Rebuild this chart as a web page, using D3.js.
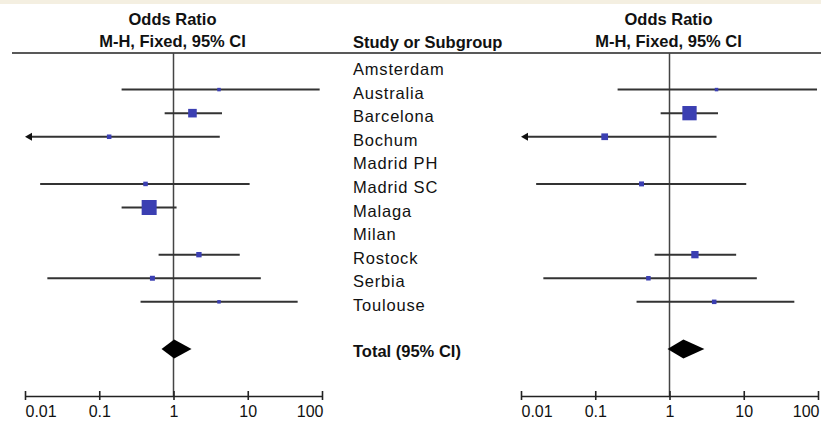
<!DOCTYPE html>
<html>
<head>
<meta charset="utf-8">
<script src="https://cdn.jsdelivr.net/npm/d3@7"></script>
<style>
  body { margin: 0; background: #fff; }
  svg { display: block; font-family: "Liberation Sans", Arial, sans-serif; }
  .hdr { font-weight: bold; font-size: 16.5px; fill: #111; }
  .study { font-size: 16.5px; letter-spacing: 0.8px; fill: #111; }
</style>
</head>
<body>
<svg id="chart"></svg>
<script>
// study rows (top to bottom)
const studies = ["Amsterdam", "Australia", "Barcelona", "Bochum", "Madrid PH", "Madrid SC",
                 "Malaga", "Milan", "Rostock", "Serbia", "Toulouse"];
const totalLabel = "Total (95% CI)";
const tickValues = [0.01, 0.1, 1, 10, 100];

// left plot: odds ratio, lower / upper CI, weight (%)
const leftOR     = [null, 4.1, 1.8, 0.136, null, 0.42, 0.47, null, 2.2, 0.52, 4.1];
const leftLow    = [null, 0.2, 0.76, 0.004, null, 0.016, 0.2, null, 0.63, 0.02, 0.36];
const leftHigh   = [null, 93, 4.5, 4.2, null, 10.6, 1.1, null, 7.8, 15, 47];
const leftWeight = [0, 3, 18, 5, 0, 5, 55, 0, 7, 6, 3];
const leftTotal  = [1.02, 0.69, 1.75];

// right plot
const rightOR     = [null, 4.3, 1.86, 0.134, null, 0.42, null, null, 2.2, 0.52, 4.0];
const rightLow    = [null, 0.2, 0.76, 0.004, null, 0.016, null, null, 0.63, 0.02, 0.36];
const rightHigh   = [null, 97, 4.5, 4.3, null, 10.8, null, null, 7.9, 15, 48];
const rightWeight = [0, 3, 50, 11, 0, 6, 0, 0, 13, 5, 5];
const rightTotal  = [1.54, 0.94, 2.95];

const width = 821, height = 423;
const headLineY = 53, axisY = 396;

const svg = d3.select('#chart').attr('width', width).attr('height', height);

// light strip along the top edge
svg.append('rect').attr('x', 0).attr('y', 0).attr('width', width).attr('height', 4).attr('fill', '#f4efe1');

// row positions
const y = d3.scalePoint()
            .domain([...studies, "gap", totalLabel])
            .range([66, 349]);

// marker size from weight
const size = d3.scaleSqrt().domain([0, 55]).range([0, 15]);

// header rule
svg.append('line')
   .attr('x1', 12).attr('x2', width)
   .attr('y1', headLineY).attr('y2', headLineY)
   .attr('stroke', '#222').attr('stroke-width', 1.6);

// middle column
svg.append('text').attr('class', 'hdr').attr('x', 353).attr('y', 48).text('Study or Subgroup');
svg.selectAll('text.study')
   .data(studies)
   .enter().append('text')
   .attr('class', 'study')
   .attr('x', 353)
   .attr('y', d => y(d) + 9)
   .text(d => d);
svg.append('text').attr('class', 'hdr').attr('x', 353).attr('y', y(totalLabel) + 8).text(totalLabel);

function drawPanel(range, or, low, high, weight, total) {
    let x = d3.scaleLog().domain([0.01, 100]).range(range);
    let g = svg.append('g');
    let cx = x(1);

    g.append('text').attr('class', 'hdr').attr('x', cx - 1).attr('y', 25)
     .attr('text-anchor', 'middle').text('Odds Ratio');
    g.append('text').attr('class', 'hdr').attr('x', cx - 1).attr('y', 47)
     .attr('text-anchor', 'middle').text('M-H, Fixed, 95% CI');

    // line of no effect
    g.append('line')
     .attr('x1', cx).attr('x2', cx)
     .attr('y1', headLineY).attr('y2', axisY)
     .attr('stroke', '#444').attr('stroke-width', 1.5);

    let rows = studies.map((s, i) => ({ name: s, or: or[i], low: low[i], high: high[i], w: weight[i] }))
                      .filter(d => d.or != null);

    let [dMin, dMax] = x.domain();
    let clamp = v => Math.max(dMin, Math.min(dMax, v));

    // CI lines
    g.selectAll('line.ci')
     .data(rows)
     .enter().append('line')
     .attr('class', 'ci')
     .attr('x1', d => x(clamp(d.low)) + (d.low < dMin ? 4 : 0))
     .attr('x2', d => x(clamp(d.high)))
     .attr('y1', d => y(d.name)).attr('y2', d => y(d.name))
     .attr('stroke', '#333').attr('stroke-width', 2);

    // arrows for CIs running off the scale
    g.selectAll('path.arrow')
     .data(rows.filter(d => d.low < dMin))
     .enter().append('path')
     .attr('class', 'arrow')
     .attr('d', d => {
         let ax = x(dMin), ay = y(d.name);
         return `M${ax},${ay} L${ax + 7},${ay - 4} L${ax + 7},${ay + 4} Z`;
     })
     .attr('fill', '#111');

    // weighted squares
    g.selectAll('rect.pt')
     .data(rows)
     .enter().append('rect')
     .attr('class', 'pt')
     .attr('x', d => x(d.or) - size(d.w) / 2)
     .attr('y', d => y(d.name) - size(d.w) / 2)
     .attr('width', d => size(d.w))
     .attr('height', d => size(d.w))
     .attr('fill', '#3b3fb2');

    // pooled diamond
    let ty = y(totalLabel), dh = 9.5;
    g.append('path')
     .attr('d', `M${x(total[1])},${ty} L${x(total[0])},${ty - dh} L${x(total[2])},${ty} L${x(total[0])},${ty + dh} Z`)
     .attr('fill', '#000');

    // axis
    let axis = g.append('g')
                .attr('transform', `translate(0,${axisY})`)
                .call(d3.axisBottom(x)
                        .tickValues(tickValues)
                        .tickFormat(d => String(d))
                        .tickSizeOuter(0)
                        .tickSizeInner(4));
    axis.select('.domain').attr('stroke', '#222').attr('stroke-width', 1.6);
    axis.selectAll('.tick line').attr('y1', -5).attr('stroke', '#222').attr('stroke-width', 1.6);
    axis.selectAll('.tick text')
        .attr('y', 21).attr('dy', null)
        .attr('font-size', 16)
        .attr('font-family', '"Liberation Sans", Arial, sans-serif')
        .attr('fill', '#111')
        .attr('text-anchor', (d, i) => i === 0 ? 'start' : (i === tickValues.length - 1 ? 'end' : 'middle'))
        .attr('dx', (d, i) => i === tickValues.length - 1 ? 1 : 0);
}

drawPanel([25, 322], leftOR, leftLow, leftHigh, leftWeight, leftTotal);
drawPanel([521, 818], rightOR, rightLow, rightHigh, rightWeight, rightTotal);
</script>
</body>
</html>
